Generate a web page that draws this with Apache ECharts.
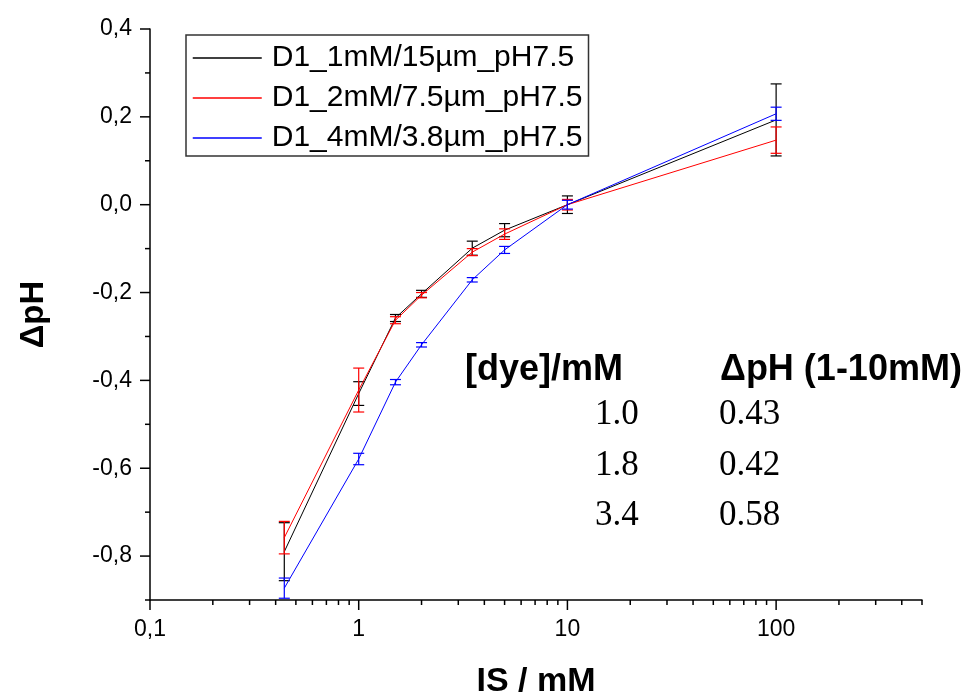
<!DOCTYPE html>
<html><head><meta charset="utf-8">
<script src="https://cdn.jsdelivr.net/npm/echarts@6/dist/echarts.min.js"></script>
<style>html,body{margin:0;padding:0;background:#fff}#c{width:963px;height:695px}</style>
</head><body><div id="c"></div>
<script>
// ---- data ----
const ionicStrength = [0.44, 1, 1.5, 2, 3.5, 5, 10, 100];
const seriesNames = ['D1_1mM/15µm_pH7.5', 'D1_2mM/7.5µm_pH7.5', 'D1_4mM/3.8µm_pH7.5'];
const dpH_1mM = [-0.79, -0.43, -0.258, -0.203, -0.099, -0.058, 0, 0.193];
const err_1mM = [0.066, 0.027, 0.008, 0.008, 0.016, 0.015, 0.02, 0.082];
const dpH_2mM = [-0.758, -0.422, -0.263, -0.206, -0.108, -0.067, 0, 0.147];
const err_2mM = [0.037, 0.05, 0.008, 0.006, 0.008, 0.012, 0.012, 0.03];
const dpH_4mM = [-0.873, -0.579, -0.404, -0.319, -0.171, -0.103, 0, 0.207];
const err_4mM = [0.023, 0.013, 0.006, 0.005, 0.005, 0.008, 0.01, 0.015];
const xMajorTicks = [0.1, 1, 10, 100];
const xMinorTicks = [0.2, 0.3, 0.4, 0.5, 0.6, 0.7, 0.8, 0.9, 2, 3, 4, 5, 6, 7, 8, 9, 20, 30, 40, 50, 60, 70, 80, 90, 200, 300, 400, 500];
const yMajorTicks = [-0.8, -0.6, -0.4, -0.2, 0, 0.2, 0.4];
const yMinorTicks = [-0.9, -0.7, -0.5, -0.3, -0.1, 0.1, 0.3];
const tableHeaders = ['[dye]/mM', 'ΔpH (1-10mM)'];
const dyeConc = ['1.0', '1.8', '3.4'];
const dpHRange = ['0.43', '0.42', '0.58'];

// ---- build ----
const X_MIN = 0.1, X_MAX = 500, Y_MIN = -0.9, Y_MAX = 0.4;
const colors = ['#000000', '#ff0000', '#0000ff'];
const values = [dpH_1mM, dpH_2mM, dpH_4mM];
const errors = [err_1mM, err_2mM, err_4mM];
const SANS = '"Liberation Sans", Arial, Helvetica, sans-serif';
const SERIF = '"Liberation Serif", "Times New Roman", serif';

const chart = echarts.init(document.getElementById('c'), null, {renderer: 'canvas'});

const series = [];
seriesNames.forEach((name, i) => {
  series.push({
    name, type: 'line', symbol: 'none', z: 3 + i,
    lineStyle: {color: colors[i], width: 1},
    itemStyle: {color: colors[i]},
    data: ionicStrength.map((x, k) => [x, values[i][k]])
  });
});
seriesNames.forEach((name, i) => {
  series.push({
    name: name + ' err', type: 'custom', z: 3 + i, clip: false,
    encode: {x: 0, y: 1},
    data: ionicStrength.map((x, k) => [x, values[i][k], errors[i][k]]),
    renderItem: (params, api) => {
      const x = api.value(0), y = api.value(1), e = api.value(2);
      const t = api.coord([x, y + e]), b = api.coord([x, y - e]);
      const hw = 5.5, st = {stroke: colors[i], lineWidth: 1.2};
      return {type: 'group', children: [
        {type: 'line', shape: {x1: t[0], y1: t[1], x2: b[0], y2: b[1]}, style: st},
        {type: 'line', shape: {x1: t[0] - hw, y1: t[1], x2: t[0] + hw, y2: t[1]}, style: st},
        {type: 'line', shape: {x1: b[0] - hw, y1: b[1], x2: b[0] + hw, y2: b[1]}, style: st}
      ]};
    }
  });
});
// axis ticks drawn through the axes' scales
const xTickData = xMajorTicks.map(v => [v, Y_MIN, 10]).concat(xMinorTicks.map(v => [v, Y_MIN, 5]));
const yTickData = yMajorTicks.map(v => [X_MIN, v, 10]).concat(yMinorTicks.map(v => [X_MIN, v, 5]));
series.push({
  name: 'xticks', type: 'custom', clip: false, silent: true, z: 10,
  encode: {x: 0, y: 1}, data: xTickData,
  renderItem: (params, api) => {
    const p = api.coord([api.value(0), api.value(1)]);
    return {type: 'line', shape: {x1: p[0], y1: p[1], x2: p[0], y2: p[1] + api.value(2)}, style: {stroke: '#000', lineWidth: 1.5}};
  }
});
series.push({
  name: 'yticks', type: 'custom', clip: false, silent: true, z: 10,
  encode: {x: 0, y: 1}, data: yTickData,
  renderItem: (params, api) => {
    const p = api.coord([api.value(0), api.value(1)]);
    return {type: 'line', shape: {x1: p[0] - api.value(2), y1: p[1], x2: p[0], y2: p[1]}, style: {stroke: '#000', lineWidth: 1.5}};
  }
});

const graphics = [];
const headerX = [465, 720];
tableHeaders.forEach((t, i) => graphics.push({
  type: 'text', x: headerX[i], y: 370,
  style: {text: t, font: 'bold 36px ' + SANS, fill: '#000', textAlign: 'left', textVerticalAlign: 'middle'}
}));
const rowY = [415, 466, 516];
dyeConc.forEach((t, i) => graphics.push({
  type: 'text', x: 595, y: rowY[i],
  style: {text: t, font: '35px ' + SERIF, fill: '#000', textAlign: 'left', textVerticalAlign: 'middle'}
}));
dpHRange.forEach((t, i) => graphics.push({
  type: 'text', x: 719, y: rowY[i],
  style: {text: t, font: '35px ' + SERIF, fill: '#000', textAlign: 'left', textVerticalAlign: 'middle'}
}));

function isPow10(v) { const l = Math.log10(v); return Math.abs(l - Math.round(l)) < 1e-6; }

chart.setOption({
  animation: false,
  backgroundColor: '#fff',
  grid: {left: 150, right: 41, top: 29, bottom: 95, containLabel: false, outerBoundsMode: 'none'},
  legend: {
    data: seriesNames, orient: 'vertical', left: 186, top: 35,
    itemWidth: 69, itemHeight: 14, itemGap: 10,
    padding: [8, 6, 3, 6], borderColor: '#333', borderWidth: 1.5,
    itemStyle: {color: 'rgba(0,0,0,0)', borderWidth: 0, borderColor: 'rgba(0,0,0,0)'},
    lineStyle: {width: 1.5},
    textStyle: {fontFamily: SANS, fontSize: 30, color: '#000', padding: [0, 0, 0, 5], lineHeight: 28}
  },
  xAxis: {
    type: 'log', logBase: 10, min: X_MIN, max: X_MAX,
    name: 'IS / mM', nameLocation: 'middle', nameGap: 65,
    nameTextStyle: {fontFamily: SANS, fontSize: 34, fontWeight: 'bold', color: '#000'},
    axisLine: {show: true, onZero: false, lineStyle: {color: '#000', width: 1.5}},
    axisTick: {show: false}, splitLine: {show: false}, minorTick: {show: false},
    axisLabel: {
      margin: 18, color: '#000', fontFamily: SANS, fontSize: 23, showMaxLabel: false,
      formatter: v => (isPow10(v) && v < 400) ? (v < 1 ? v.toFixed(1).replace('.', ',') : String(Math.round(v))) : ''
    }
  },
  yAxis: {
    type: 'value', min: Y_MIN, max: Y_MAX, interval: 0.1,
    name: 'ΔpH', nameLocation: 'middle', nameGap: 100, nameRotate: 90,
    nameTextStyle: {fontFamily: SANS, fontSize: 33, fontWeight: 'bold', color: '#000'},
    axisLine: {show: true, onZero: false, lineStyle: {color: '#000', width: 1.5}},
    axisTick: {show: false}, splitLine: {show: false},
    axisLabel: {
      margin: 18, color: '#000', fontFamily: SANS, fontSize: 23,
      formatter: v => { const k = Math.round(v * 10); return (k % 2 !== 0) ? '' : (k / 10).toFixed(1).replace('.', ','); }
    }
  },
  graphic: graphics,
  series
});
</script></body></html>
